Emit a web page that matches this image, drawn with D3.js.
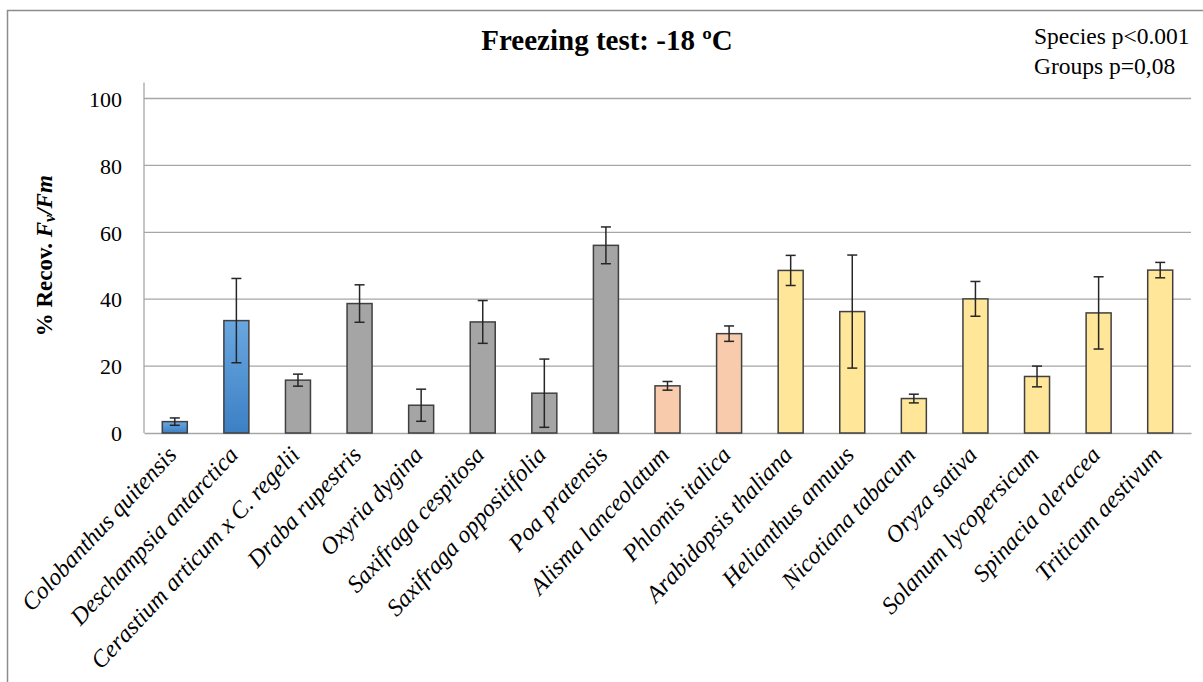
<!DOCTYPE html>
<html>
<head>
<meta charset="utf-8">
<script src="https://cdn.jsdelivr.net/npm/d3@7"></script>
<style>
  html, body { margin: 0; padding: 0; background: #fff; }
  svg { display: block; font-family: "Liberation Serif", "Times New Roman", serif; }
</style>
</head>
<body>
<svg id="chart" width="1203" height="682"></svg>
<script>
// Species tested and their functional group
const species = [
  "Colobanthus quitensis", "Deschampsia antarctica", "Cerastium articum x C. regelii",
  "Draba rupestris", "Oxyria dygina", "Saxifraga cespitosa", "Saxifraga oppositifolia",
  "Poa pratensis", "Alisma lanceolatum", "Phlomis italica", "Arabidopsis thaliana",
  "Helianthus annuus", "Nicotiana tabacum", "Oryza sativa", "Solanum lycopersicum",
  "Spinacia oleracea", "Triticum aestivum"
];
const groups = [
  "antarctic", "antarctic", "arctic", "arctic", "arctic", "arctic", "arctic", "arctic",
  "mediterranean", "mediterranean", "temperate", "temperate", "temperate", "temperate",
  "temperate", "temperate", "temperate"
];
// Mean % recovery of Fv/Fm and its error
const recovery = [3.4, 33.6, 15.8, 38.7, 8.3, 33.2, 11.9, 56.1, 14.1, 29.7, 48.6, 36.3, 10.3, 40.1, 16.9, 35.9, 48.7];
const errors   = [1.1, 12.6, 1.8, 5.6, 4.8, 6.4, 10.2, 5.5, 1.3, 2.3, 4.5, 16.9, 1.3, 5.2, 3.1, 10.8, 2.3];
const yTicks = [0, 20, 40, 60, 80, 100];

const fills = {
  antarctic: "url(#blueGrad)",
  arctic: "#a5a5a5",
  mediterranean: "#f8cbad",
  temperate: "#ffe699"
};

const svg = d3.select("#chart");

const defs = svg.append("defs");
const grad = defs.append("linearGradient")
  .attr("id", "blueGrad").attr("x1", 0).attr("y1", 0).attr("x2", 0).attr("y2", 1);
grad.append("stop").attr("offset", "0%").attr("stop-color", "#6aa7e0");
grad.append("stop").attr("offset", "100%").attr("stop-color", "#3c80c4");

// Outer frame (top and left edges)
svg.append("path")
  .attr("d", "M7.5,682 V10.5 H1203")
  .attr("fill", "none").attr("stroke", "#8c8c8c").attr("stroke-width", 1.5);

const plot = { left: 144, right: 1191, top: 98.5, bottom: 433 };

const x = d3.scaleBand().domain(species).range([plot.left, plot.right])
  .paddingInner(0.594).paddingOuter(0.297);
const y = d3.scaleLinear().domain([0, 100]).range([plot.bottom, plot.top]);

// Gridlines
svg.append("g").selectAll("line").data(yTicks.filter(d => d > 0)).join("line")
  .attr("x1", plot.left).attr("x2", plot.right)
  .attr("y1", d => y(d)).attr("y2", d => y(d))
  .attr("stroke", "#a6a6a6").attr("stroke-width", 1.3);

// Y axis with labels
const yAxis = svg.append("g").attr("transform", `translate(${plot.left},0)`)
  .call(d3.axisLeft(y).tickValues(yTicks).tickSize(0).tickPadding(22));
yAxis.select(".domain").attr("stroke", "#a6a6a6").attr("stroke-width", 1.3)
  .attr("d", `M0,${plot.top - 16}V${plot.bottom}`);
yAxis.selectAll("text")
  .attr("font-family", "Liberation Serif").attr("font-size", 22).attr("fill", "#000")
  .attr("dy", "0.35em");

// X axis baseline
const xAxis = svg.append("g").attr("transform", `translate(0,${plot.bottom})`)
  .call(d3.axisBottom(x).tickSize(0).tickFormat(""));
xAxis.select(".domain").attr("stroke", "#a6a6a6").attr("stroke-width", 1.3);

// Bars
svg.append("g").selectAll("rect").data(species).join("rect")
  .attr("x", d => x(d))
  .attr("y", (d, i) => y(recovery[i]))
  .attr("width", x.bandwidth())
  .attr("height", (d, i) => y(0) - y(recovery[i]))
  .attr("fill", (d, i) => fills[groups[i]])
  .attr("stroke", "#404040").attr("stroke-width", 1.5);

// Error bars
const eb = svg.append("g").attr("stroke", "#262626").attr("stroke-width", 1.5);
species.forEach((s, i) => {
  const cx = x(s) + x.bandwidth() / 2;
  const hi = y(recovery[i] + errors[i]);
  const lo = y(Math.max(0, recovery[i] - errors[i]));
  eb.append("line").attr("x1", cx).attr("x2", cx).attr("y1", hi).attr("y2", lo);
  eb.append("line").attr("x1", cx - 5).attr("x2", cx + 5).attr("y1", hi).attr("y2", hi);
  eb.append("line").attr("x1", cx - 5).attr("x2", cx + 5).attr("y1", lo).attr("y2", lo);
});

// Rotated species names
svg.append("g").selectAll("text").data(species).join("text")
  .attr("transform", d => {
    const cx = x(d) + x.bandwidth() / 2;
    return `translate(${cx + 3},${plot.bottom + 23}) rotate(-47)`;
  })
  .attr("text-anchor", "end")
  .attr("font-family", "Liberation Serif").attr("font-style", "italic")
  .attr("font-size", 24).attr("fill", "#000")
  .text(d => d);

// Title
svg.append("text")
  .attr("x", 607).attr("y", 50)
  .attr("text-anchor", "middle")
  .attr("font-family", "Liberation Serif").attr("font-weight", "bold")
  .attr("font-size", 29).attr("fill", "#000")
  .text("Freezing test: -18 ºC");

// Statistics note
const note = svg.append("g").attr("font-family", "Liberation Serif").attr("font-size", 23.5).attr("fill", "#000");
note.append("text").attr("x", 1034).attr("y", 44).text("Species p<0.001");
note.append("text").attr("x", 1034).attr("y", 74).text("Groups p=0,08");

// Y axis title
const yt = svg.append("text")
  .attr("transform", `translate(52,${(plot.top + plot.bottom) / 2 - 10}) rotate(-90)`)
  .attr("text-anchor", "middle")
  .attr("font-family", "Liberation Serif").attr("font-weight", "bold")
  .attr("font-size", 23).attr("fill", "#000");
yt.append("tspan").text("% Recov. ");
yt.append("tspan").attr("font-style", "italic").text("F");
yt.append("tspan").attr("font-style", "italic").attr("font-size", 16).attr("dy", 3).text("v");
yt.append("tspan").attr("font-style", "italic").attr("dy", -3).text("/F");
yt.append("tspan").attr("font-style", "italic").text("m");
</script>
</body>
</html>
